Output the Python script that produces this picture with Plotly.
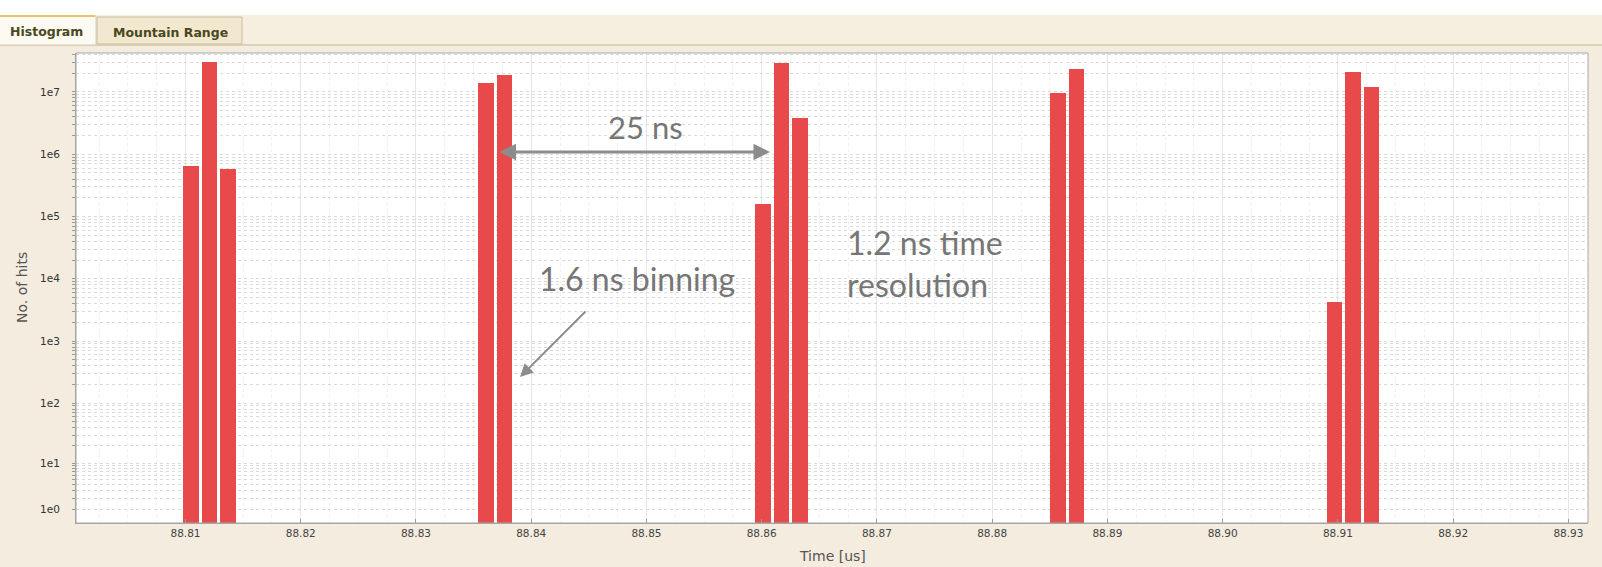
import numpy as np
import plotly.graph_objects as go

# Histogram bins (bin centre in microseconds) and hit counts per bin
bin_time_us = [88.8105, 88.8121, 88.8137,
               88.8361, 88.8377,
               88.8601, 88.8617, 88.8633,
               88.8857, 88.8873,
               88.9097, 88.9113, 88.9129]
hit_counts = [6.5e5, 3.0e7, 5.8e5,
              1.4e7, 1.87e7,
              1.6e5, 2.94e7, 3.8e6,
              9.6e6, 2.3e7,
              4.2e3, 2.1e7, 1.2e7]

x_tick_vals = [88.81, 88.82, 88.83, 88.84, 88.85, 88.86, 88.87,
               88.88, 88.89, 88.90, 88.91, 88.92, 88.93]
x_tick_text = ["88.81", "88.82", "88.83", "88.84", "88.85", "88.86", "88.87",
               "88.88", "88.89", "88.90", "88.91", "88.92", "88.93"]
y_decades = [0, 1, 2, 3, 4, 5, 6, 7]
y_decade_text = ["1e0", "1e1", "1e2", "1e3", "1e4", "1e5", "1e6", "1e7"]

BIN_WIDTH = 0.00135
BAR_COLOR = "#E84A4B"
NOTE_COLOR = "#767676"
ARROW_COLOR = "#8C8C8C"
BG = "#F4ECDE"


def yscale(v):
    # the count axis is logarithmic in (1 + counts)
    return np.log10(1.0 + np.asarray(v, dtype=float))


# log-style ticks: label the decades, leave the 2..9 sub-ticks blank
tick_vals, tick_text = [], []
for d, lab in zip(y_decades, y_decade_text):
    for m in range(1, 10):
        v = m * 10.0 ** d
        if yscale(v) > 7.62:
            break
        tick_vals.append(float(yscale(v)))
        tick_text.append(lab if m == 1 else "")

W, H = 1602, 567
L, R, T, B = 76, 14, 53, 44
PW, PH = W - L - R, H - T - B


def px(x):
    return (x - L) / PW


def py(y):
    return (H - B - y) / PH


fig = go.Figure()
fig.add_trace(go.Bar(
    x=bin_time_us, y=yscale(hit_counts), width=BIN_WIDTH,
    marker=dict(color=BAR_COLOR, line=dict(width=0)),
    hoverinfo="skip", showlegend=False,
))

shapes = [
    # white strip above the tab bar
    dict(type="rect", xref="paper", yref="paper", x0=px(0), x1=px(W), y0=py(15), y1=py(0),
         fillcolor="white", line=dict(width=0), layer="below"),
    # tab bar
    dict(type="rect", xref="paper", yref="paper", x0=px(0), x1=px(W), y0=py(46), y1=py(15),
         fillcolor="#F6EFDF", line=dict(width=0), layer="below"),
    dict(type="line", xref="paper", yref="paper", x0=px(0), x1=px(W), y0=py(45), y1=py(45),
         line=dict(color="#DCD2B8", width=2), layer="below"),
    # "Histogram" (selected) tab
    dict(type="rect", xref="paper", yref="paper", x0=px(-2), x1=px(96), y0=py(45), y1=py(16),
         fillcolor="#FCFAF2", line=dict(color="#D9CFB4", width=1), layer="below"),
    dict(type="line", xref="paper", yref="paper", x0=px(0), x1=px(95), y0=py(16), y1=py(16),
         line=dict(color="#E8C66A", width=2), layer="below"),
    # "Mountain Range" tab
    dict(type="rect", xref="paper", yref="paper", x0=px(97), x1=px(242), y0=py(44), y1=py(17),
         fillcolor="#F1E8CF", line=dict(color="#C9BE9E", width=1), layer="below"),
    # plot frame
    dict(type="rect", xref="paper", yref="paper", x0=0, x1=1, y0=0, y1=1,
         line=dict(color="#A8A8A8", width=1), fillcolor="rgba(0,0,0,0)", layer="above"),
]

tab_font = dict(family="DejaVu Sans", size=12.5, color="#4A4820")
annotations = [
    dict(text="<b>Histogram</b>", xref="paper", yref="paper", x=px(46), y=py(31),
         showarrow=False, font=tab_font, xanchor="center", yanchor="middle"),
    dict(text="<b>Mountain Range</b>", xref="paper", yref="paper", x=px(170), y=py(32),
         showarrow=False, font=tab_font, xanchor="center", yanchor="middle"),
    # axis titles
    dict(text="No. of hits", xref="paper", yref="paper", x=px(22), y=py(288),
         textangle=-90, showarrow=False, font=dict(family="DejaVu Sans", size=14, color="#555"),
         xanchor="center", yanchor="middle"),
    dict(text="Time [us]", xref="paper", yref="paper", x=0.5, y=py(556),
         showarrow=False, font=dict(family="DejaVu Sans", size=14, color="#555"),
         xanchor="center", yanchor="middle"),
    # notes
    dict(text="25 ns", xref="paper", yref="paper", x=px(645), y=py(127),
         showarrow=False, font=dict(family="Lato", size=31, color=NOTE_COLOR),
         xanchor="center", yanchor="middle"),
    dict(text="", xref="paper", yref="paper", x=px(770), y=py(152),
         ax=-272, ay=0, axref="pixel", ayref="pixel",
         showarrow=True, arrowside="end+start", arrowhead=2, arrowsize=1.1,
         arrowwidth=3, arrowcolor=ARROW_COLOR),
    dict(text="1.6 ns binning", xref="paper", yref="paper", x=px(637), y=py(278),
         showarrow=False, font=dict(family="Lato", size=32, color=NOTE_COLOR),
         xanchor="center", yanchor="middle"),
    dict(text="", xref="paper", yref="paper", x=px(520), y=py(377),
         ax=67, ay=-67, axref="pixel", ayref="pixel",
         showarrow=True, arrowhead=2, arrowsize=1.3, arrowwidth=2, arrowcolor=ARROW_COLOR),
    dict(text="1.2 ns time<br>resolution", xref="paper", yref="paper", x=px(845), y=py(263),
         showarrow=False, align="left", font=dict(family="Lato", size=32, color=NOTE_COLOR),
         xanchor="left", yanchor="middle"),
]

fig.update_layout(
    width=W, height=H,
    margin=dict(l=L, r=R, t=T, b=B, pad=0),
    paper_bgcolor=BG, plot_bgcolor="white",
    bargap=0, shapes=shapes, annotations=annotations,
    xaxis=dict(
        range=[88.8005, 88.9317], tickvals=x_tick_vals, ticktext=x_tick_text,
        ticks="inside", ticklen=4, tickcolor="#999",
        tickfont=dict(family="DejaVu Sans", size=10.5, color="#444"),
        showline=True, linecolor="#A0A0A0", mirror=False,
        showgrid=True, gridcolor="#E6E6E6", gridwidth=1,
        minor=dict(dtick=0.0025, showgrid=True, gridcolor="#EFEFEF", griddash="dot"),
        zeroline=False, fixedrange=True,
    ),
    yaxis=dict(
        range=[0.08, 7.625], tickvals=tick_vals, ticktext=tick_text,
        ticks="outside", ticklen=3, tickcolor="#999",
        tickfont=dict(family="DejaVu Sans", size=10.5, color="#333"),
        ticklabelstandoff=10,
        showline=True, linecolor="#A0A0A0",
        showgrid=True, gridcolor="#DADADA", griddash="dot", gridwidth=1,
        zeroline=False, fixedrange=True,
    ),
)

fig.write_html("out.html")
